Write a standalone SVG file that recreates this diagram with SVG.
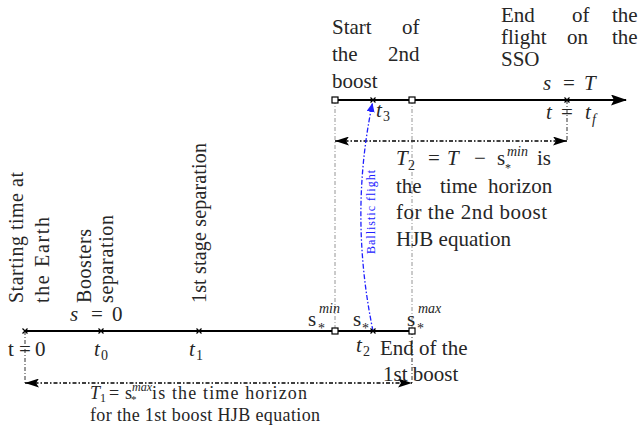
<svg xmlns="http://www.w3.org/2000/svg" width="643" height="427" viewBox="0 0 643 427" font-family="'Liberation Serif', 'DejaVu Serif', 'Times New Roman', serif">
<style>
text{font-family:'Liberation Serif','DejaVu Serif','Times New Roman',serif;fill:#262626}
.t{font-size:21px}
.r{font-size:20px}
.s{font-size:18px}
.i{font-style:italic}
.sub{font-size:14px;font-style:normal}
.sup{font-size:14px;font-style:italic}
.axis{stroke:#000;stroke-width:2;fill:none}
.guide{stroke:#8a8a8a;stroke-width:0.9;stroke-dasharray:4 2 1 2;fill:none}
.vdim{stroke:#333;stroke-width:1;stroke-dasharray:4 2 1 2;fill:none}
.dim{stroke:#000;stroke-width:1.6;stroke-dasharray:4 2 1.5 2;fill:none}
.ball{stroke:#2020ff;stroke-width:1.3;stroke-dasharray:5 2 1.5 2;fill:none}
.sq{fill:#fff;stroke:#000;stroke-width:1.2}
.x{stroke:#000;stroke-width:1.2;fill:none}
.blue{fill:#2020ff;font-size:12px}
</style>
<defs>
<marker id="ah" viewBox="0 0 14 9" refX="14" refY="4.5" markerWidth="14" markerHeight="9" markerUnits="userSpaceOnUse" orient="auto-start-reverse"><path d="M0,0 L14,4.5 L0,9 L3,4.5 z" fill="#000"/></marker>
<marker id="axh" viewBox="0 0 16 11" refX="15" refY="5.5" markerWidth="16" markerHeight="11" markerUnits="userSpaceOnUse" orient="auto"><path d="M0,0 L16,5.5 L0,11 L3,5.5 z" fill="#000"/></marker>
<marker id="bh" viewBox="0 0 9 8" refX="9" refY="4" markerWidth="9" markerHeight="8" markerUnits="userSpaceOnUse" orient="auto"><path d="M0,0 L9,4 L0,8 z" fill="#2020ff"/></marker>
<path id="cross" d="M-2.5,-2.5 L2.5,2.5 M-2.5,2.5 L2.5,-2.5" class="x"/>
</defs>

<g id="connectors">
<line class="guide" x1="335" y1="100" x2="335" y2="331"/>
<line class="guide" x1="412" y1="100" x2="412" y2="331"/>
<line class="vdim" x1="412" y1="331" x2="412" y2="383"/>
<line class="vdim" x1="25" y1="331" x2="25" y2="383"/>
<line class="vdim" x1="567" y1="100" x2="567" y2="141"/>
<line class="axis" x1="25" y1="331" x2="412" y2="331"/>
<line class="axis" x1="335" y1="100" x2="626" y2="100" marker-end="url(#axh)"/>
<line class="dim" x1="335" y1="141" x2="567" y2="141" marker-start="url(#ah)" marker-end="url(#ah)"/>
<line class="dim" x1="25" y1="383" x2="412" y2="383" marker-start="url(#ah)" marker-end="url(#ah)"/>
<path class="ball" d="M373,331 Q349,215 372.5,103" marker-end="url(#bh)"/>
<text class="blue" transform="translate(375,254) rotate(-90)" textLength="84">Ballistic flight</text>
</g>

<g id="node-t0-start">
<use href="#cross" x="25" y="331"/>
<text class="r" transform="translate(23,303) rotate(-90)" textLength="131">Starting time at</text>
<text class="r" transform="translate(49,303) rotate(-90)" textLength="86">the Earth</text>
<text class="t" x="8" y="356">t<tspan x="19">=</tspan><tspan x="35">0</tspan></text>
</g>

<g id="node-boosters">
<use href="#cross" x="101" y="331"/>
<text class="r" transform="translate(91,303) rotate(-90)" textLength="74">Boosters</text>
<text class="r" transform="translate(113,303) rotate(-90)" textLength="88">separation</text>
<text class="t" x="70" y="321"><tspan class="i">s</tspan><tspan x="91">=</tspan><tspan x="112">0</tspan></text>
<text class="t i" x="94" y="356">t<tspan class="sub" x="101" y="360">0</tspan></text>
</g>

<g id="node-stage1">
<use href="#cross" x="199" y="331"/>
<text class="r" transform="translate(206,303) rotate(-90)" textLength="160">1st stage separation</text>
<text class="t i" x="189" y="356">t<tspan class="sub" x="196" y="360">1</tspan></text>
</g>

<g id="node-smin">
<rect class="sq" x="332" y="328" width="6" height="6"/>
<text class="t" x="308" y="326">s<tspan class="sub" x="318" y="333">*</tspan><tspan class="sup" x="319" y="313">min</tspan></text>
</g>

<g id="node-sstar">
<use href="#cross" x="373" y="331"/>
<text class="t" x="353" y="326">s<tspan class="sub" x="362" y="333">*</tspan></text>
<text class="t i" x="356" y="352">t<tspan class="sub" x="363" y="356">2</tspan></text>
</g>

<g id="node-smax">
<rect class="sq" x="409" y="328" width="6" height="6"/>
<text class="t" x="407" y="326">s<tspan class="sub" x="417" y="333">*</tspan><tspan class="sup" x="418" y="313">max</tspan></text>
<text class="t" x="380" y="355">End of the</text>
<text class="t" x="383" y="381">1st boost</text>
</g>

<g id="node-start2">
<rect class="sq" x="332" y="97" width="6" height="6"/>
<text class="t" x="332" y="34">Start<tspan x="402">of</tspan></text>
<text class="t" x="332" y="61">the<tspan x="388">2nd</tspan></text>
<text class="t" x="332" y="88">boost</text>
</g>

<g id="node-t3">
<use href="#cross" x="373" y="100"/>
<text class="t i" x="376" y="117">t<tspan class="sub" x="383" y="121">3</tspan></text>
</g>

<g id="node-end2">
<rect class="sq" x="409" y="97" width="6" height="6"/>
</g>

<g id="node-tf">
<use href="#cross" x="567" y="100"/>
<text class="t i" x="543" y="90">s<tspan class="t" style="font-style:normal" x="563">=</tspan><tspan x="584">T</tspan></text>
<text class="t i" x="546" y="119">t<tspan style="font-style:normal" x="561">=</tspan><tspan x="585">t</tspan><tspan class="sup" x="592" y="124">f</tspan></text>
<text class="t" x="501" y="22">End<tspan x="572">of</tspan><tspan x="612">the</tspan></text>
<text class="t" x="501" y="44">flight<tspan x="567">on</tspan><tspan x="612">the</tspan></text>
<text class="t" x="501" y="66">SSO</text>
</g>

<g id="label-T2">
<text class="t" x="396" y="165"><tspan class="i">T</tspan><tspan class="sub" x="408" y="170">2</tspan><tspan x="428" y="165">=</tspan><tspan class="i" x="447">T</tspan><tspan x="474">−</tspan><tspan x="497">s</tspan><tspan class="sub" style="font-size:12px" x="505" y="172">*</tspan><tspan class="sup" x="507" y="156">min</tspan><tspan x="537" y="165">is</tspan></text>
<text class="t" x="396" y="193">the<tspan x="440">time</tspan><tspan x="488">horizon</tspan></text>
<text class="t" x="396" y="219" textLength="151">for the 2nd boost</text>
<text class="t" x="396" y="246">HJB equation</text>
</g>

<g id="label-T1">
<text class="s" x="90" y="399"><tspan class="i">T</tspan><tspan class="sub" style="font-size:12px" x="100" y="402">1</tspan><tspan x="109" y="399">=</tspan><tspan x="125">s</tspan><tspan class="sub" style="font-size:11px" x="131" y="403">*</tspan><tspan class="sup" style="font-size:12px" x="132" y="391">max</tspan></text>
<text class="s" x="152" y="399" textLength="155">is the time horizon</text>
<text class="s" x="90" y="421" textLength="230">for the 1st boost HJB equation</text>
</g>
</svg>
